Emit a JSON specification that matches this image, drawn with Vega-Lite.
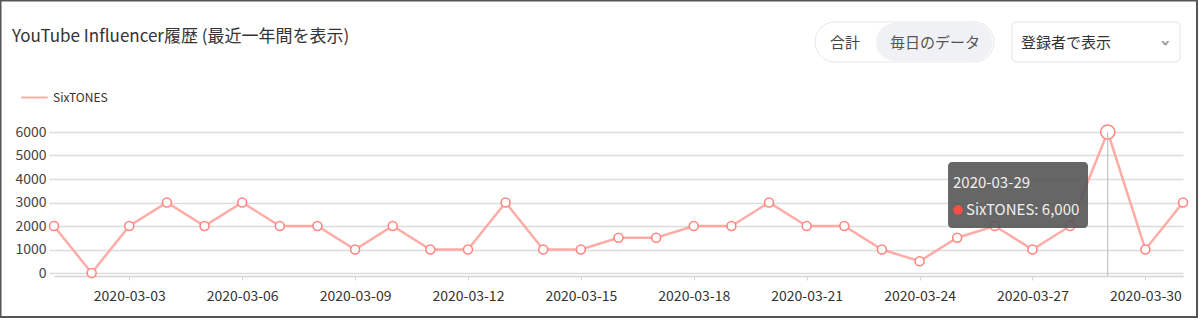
{
  "$schema": "https://vega.github.io/schema/vega-lite/v6.json",
  "autosize": {"type": "none"},
  "width": 1129,
  "height": 141,
  "padding": {"left": 54, "top": 132, "right": 17, "bottom": 47},
  "background": "white",
  "config": {
    "font": "Noto Sans CJK JP",
    "view": {"stroke": null},
    "axisY": {"tickCount": 7, "labelOverlap": false}
  },
  "title": {
    "text": "YouTube Influencer履歴 (最近一年間を表示)",
    "anchor": "start",
    "frame": "group",
    "orient": "top",
    "dx": -42,
    "offset": -47,
    "fontSize": 17,
    "fontWeight": "normal",
    "color": "#333333",
    "font": "Noto Sans CJK JP"
  },
  "data": {
    "values": [
      {"date": "2020-03-01", "name": "SixTONES", "value": 2000},
      {"date": "2020-03-02", "name": "SixTONES", "value": 0},
      {"date": "2020-03-03", "name": "SixTONES", "value": 2000},
      {"date": "2020-03-04", "name": "SixTONES", "value": 3000},
      {"date": "2020-03-05", "name": "SixTONES", "value": 2000},
      {"date": "2020-03-06", "name": "SixTONES", "value": 3000},
      {"date": "2020-03-07", "name": "SixTONES", "value": 2000},
      {"date": "2020-03-08", "name": "SixTONES", "value": 2000},
      {"date": "2020-03-09", "name": "SixTONES", "value": 1000},
      {"date": "2020-03-10", "name": "SixTONES", "value": 2000},
      {"date": "2020-03-11", "name": "SixTONES", "value": 1000},
      {"date": "2020-03-12", "name": "SixTONES", "value": 1000},
      {"date": "2020-03-13", "name": "SixTONES", "value": 3000},
      {"date": "2020-03-14", "name": "SixTONES", "value": 1000},
      {"date": "2020-03-15", "name": "SixTONES", "value": 1000},
      {"date": "2020-03-16", "name": "SixTONES", "value": 1500},
      {"date": "2020-03-17", "name": "SixTONES", "value": 1500},
      {"date": "2020-03-18", "name": "SixTONES", "value": 2000},
      {"date": "2020-03-19", "name": "SixTONES", "value": 2000},
      {"date": "2020-03-20", "name": "SixTONES", "value": 3000},
      {"date": "2020-03-21", "name": "SixTONES", "value": 2000},
      {"date": "2020-03-22", "name": "SixTONES", "value": 2000},
      {"date": "2020-03-23", "name": "SixTONES", "value": 1000},
      {"date": "2020-03-24", "name": "SixTONES", "value": 500},
      {"date": "2020-03-25", "name": "SixTONES", "value": 1500},
      {"date": "2020-03-26", "name": "SixTONES", "value": 2000},
      {"date": "2020-03-27", "name": "SixTONES", "value": 1000},
      {"date": "2020-03-28", "name": "SixTONES", "value": 2000},
      {"date": "2020-03-29", "name": "SixTONES", "value": 6000},
      {"date": "2020-03-30", "name": "SixTONES", "value": 1000},
      {"date": "2020-03-31", "name": "SixTONES", "value": 3000}
    ]
  },
  "layer": [
    {
      "mark": {"type": "line", "strokeWidth": 2.5, "opacity": 0.85},
      "encoding": {
        "x": {
          "field": "date",
          "type": "temporal",
          "scale": {"type": "utc", "domain": [{"year": 2020, "month": 3, "date": 1, "utc": true}, {"year": 2020, "month": 3, "date": 31, "utc": true}], "nice": false},
          "axis": {
            "title": null,
            "values": [
              {"year": 2020, "month": 3, "date": 3, "utc": true},
              {"year": 2020, "month": 3, "date": 6, "utc": true},
              {"year": 2020, "month": 3, "date": 9, "utc": true},
              {"year": 2020, "month": 3, "date": 12, "utc": true},
              {"year": 2020, "month": 3, "date": 15, "utc": true},
              {"year": 2020, "month": 3, "date": 18, "utc": true},
              {"year": 2020, "month": 3, "date": 21, "utc": true},
              {"year": 2020, "month": 3, "date": 24, "utc": true},
              {"year": 2020, "month": 3, "date": 27, "utc": true},
              {"year": 2020, "month": 3, "date": 30, "utc": true}
            ],
            "format": "%Y-%m-%d",
            "grid": false,
            "offset": 3,
            "domainColor": "#d4d4d4",
            "domainWidth": 1.5,
            "tickColor": "#d4d4d4",
            "tickSize": 4,
            "labelFontSize": 14,
            "labelColor": "#333333",
            "labelPadding": 9,
            "labelOverlap": false,
            "labelFont": "Noto Sans CJK JP"
          }
        },
        "y": {
          "field": "value",
          "type": "quantitative",
          "scale": {"domain": [0, 6000], "nice": false, "zero": true},
          "axis": {
            "title": null,
            "values": [0, 1000, 2000, 3000, 4000, 5000, 6000],
            "tickCount": 7,
            "format": "d",
            "domain": false,
            "grid": true,
            "gridColor": "#dcdcdc",
            "gridWidth": 1.5,
            "tickColor": "#dcdcdc",
            "tickSize": 5,
            "tickWidth": 1.5,
            "labelFontSize": 14,
            "labelColor": "#444444",
            "labelPadding": 3,
            "labelOverlap": false,
            "labelFont": "Noto Sans CJK JP"
          }
        },
        "color": {
          "field": "name",
          "type": "nominal",
          "scale": {"range": ["#ff9d98"]},
          "legend": {
            "title": null,
            "orient": "none",
            "legendX": -34,
            "legendY": -49,
            "symbolType": "stroke",
            "symbolSize": 700,
            "symbolStrokeWidth": 2,
            "labelFontSize": 12,
            "labelColor": "#333333",
            "labelFont": "Noto Sans CJK JP"
          }
        }
      }
    },
    {
      "mark": {"type": "point", "filled": true, "fill": "white", "stroke": "#ff8780", "strokeWidth": 1.6, "size": 80, "opacity": 1},
      "encoding": {
        "x": {"field": "date", "type": "temporal"},
        "y": {"field": "value", "type": "quantitative"}
      }
    },
    {
      "transform": [{"filter": "datum.value == 6000"}],
      "mark": {"type": "point", "filled": true, "fill": "white", "stroke": "#ff8780", "strokeWidth": 1.6, "size": 200, "opacity": 1},
      "encoding": {
        "x": {"field": "date", "type": "temporal"},
        "y": {"field": "value", "type": "quantitative"}
      }
    },
    {
      "data": {"values": [{}]},
      "mark": {"type": "rule", "color": "#b8b8b8", "strokeWidth": 1},
      "encoding": {
        "x": {"datum": {"year": 2020, "month": 3, "date": 29, "utc": true}, "type": "temporal"},
        "y": {"datum": 6000, "type": "quantitative"},
        "y2": {"datum": -120}
      }
    },
    {
      "data": {"values": [{}]},
      "mark": {"type": "rect", "fill": "transparent", "stroke": "#555555", "strokeWidth": 2},
      "encoding": {
        "x": {"datum": {"year": 2020, "month": 2, "date": 28, "hours": 13, "minutes": 53, "utc": true}, "type": "temporal"},
        "x2": {"datum": {"year": 2020, "month": 3, "date": 31, "hours": 8, "minutes": 56, "utc": true}},
        "y": {"datum": 11596, "type": "quantitative"},
        "y2": {"datum": -1872}
      }
    },
    {
      "data": {"values": [{}]},
      "mark": {"type": "rect", "fill": "white", "stroke": "#e6e6e6", "strokeWidth": 1, "cornerRadius": 20},
      "encoding": {
        "x": {"datum": {"year": 2020, "month": 3, "date": 21, "hours": 5, "minutes": 20, "utc": true}, "type": "temporal"},
        "x2": {"datum": {"year": 2020, "month": 3, "date": 25, "hours": 23, "minutes": 28, "utc": true}},
        "y": {"datum": 10681, "type": "quantitative"},
        "y2": {"datum": 8979}
      }
    },
    {
      "data": {"values": [{}]},
      "mark": {"type": "rect", "fill": "#f0f1f4", "cornerRadius": 19},
      "encoding": {
        "x": {"datum": {"year": 2020, "month": 3, "date": 22, "hours": 20, "minutes": 14, "utc": true}, "type": "temporal"},
        "x2": {"datum": {"year": 2020, "month": 3, "date": 25, "hours": 22, "minutes": 30, "utc": true}},
        "y": {"datum": 10638, "type": "quantitative"},
        "y2": {"datum": 9021}
      }
    },
    {
      "data": {"values": [{}]},
      "mark": {"type": "rect", "fill": "white", "stroke": "#e2e2e2", "strokeWidth": 1, "cornerRadius": 4},
      "encoding": {
        "x": {"datum": {"year": 2020, "month": 3, "date": 26, "hours": 10, "minutes": 57, "utc": true}, "type": "temporal"},
        "x2": {"datum": {"year": 2020, "month": 3, "date": 30, "hours": 22, "minutes": 5, "utc": true}},
        "y": {"datum": 10681, "type": "quantitative"},
        "y2": {"datum": 8979}
      }
    },
    {
      "data": {"values": [{}]},
      "mark": {"type": "text", "text": "合計", "align": "center", "baseline": "middle", "fontSize": 15, "fontWeight": "normal", "font": "Noto Sans CJK JP", "color": "#444444"},
      "encoding": {
        "x": {"datum": {"year": 2020, "month": 3, "date": 22, "hours": 0, "minutes": 27, "utc": true}, "type": "temporal"},
        "y": {"datum": 9787, "type": "quantitative"}
      }
    },
    {
      "data": {"values": [{}]},
      "mark": {"type": "text", "text": "毎日のデータ", "align": "center", "baseline": "middle", "fontSize": 15, "fontWeight": "normal", "font": "Noto Sans CJK JP", "color": "#555555"},
      "encoding": {
        "x": {"datum": {"year": 2020, "month": 3, "date": 24, "hours": 9, "minutes": 50, "utc": true}, "type": "temporal"},
        "y": {"datum": 9787, "type": "quantitative"}
      }
    },
    {
      "data": {"values": [{}]},
      "mark": {"type": "text", "text": "登録者で表示", "align": "left", "baseline": "middle", "fontSize": 15, "fontWeight": "normal", "font": "Noto Sans CJK JP", "color": "#333333"},
      "encoding": {
        "x": {"datum": {"year": 2020, "month": 3, "date": 26, "hours": 16, "minutes": 42, "utc": true}, "type": "temporal"},
        "y": {"datum": 9787, "type": "quantitative"}
      }
    },
    {
      "data": {"values": [{}]},
      "mark": {"type": "text", "text": "›", "align": "center", "baseline": "middle", "fontSize": 18, "fontWeight": "bold", "angle": 90, "color": "#999999", "font": "DejaVu Sans"},
      "encoding": {
        "x": {"datum": {"year": 2020, "month": 3, "date": 30, "hours": 12, "minutes": 32, "utc": true}, "type": "temporal"},
        "y": {"datum": 9787, "type": "quantitative"}
      }
    },
    {
      "data": {"values": [{}]},
      "mark": {"type": "rect", "fill": "#555555", "opacity": 0.9, "cornerRadius": 4},
      "encoding": {
        "x": {"datum": {"year": 2020, "month": 3, "date": 24, "hours": 18, "minutes": 9, "utc": true}, "type": "temporal"},
        "x2": {"datum": {"year": 2020, "month": 3, "date": 28, "hours": 11, "minutes": 25, "utc": true}},
        "y": {"datum": 4723, "type": "quantitative"},
        "y2": {"datum": 1915}
      }
    },
    {
      "data": {"values": [{}]},
      "mark": {"type": "text", "text": "2020-03-29", "align": "left", "baseline": "middle", "fontSize": 15, "fontWeight": "normal", "font": "Noto Sans CJK JP", "color": "#f0f0f0"},
      "encoding": {
        "x": {"datum": {"year": 2020, "month": 3, "date": 24, "hours": 21, "minutes": 20, "utc": true}, "type": "temporal"},
        "y": {"datum": 3830, "type": "quantitative"}
      }
    },
    {
      "data": {"values": [{}]},
      "mark": {"type": "circle", "color": "#ff4f45", "size": 90, "opacity": 1},
      "encoding": {
        "x": {"datum": {"year": 2020, "month": 3, "date": 25, "hours": 0, "minutes": 32, "utc": true}, "type": "temporal"},
        "y": {"datum": 2681, "type": "quantitative"}
      }
    },
    {
      "data": {"values": [{}]},
      "mark": {"type": "text", "text": "SixTONES: 6,000", "align": "left", "baseline": "middle", "fontSize": 15, "fontWeight": "normal", "font": "Noto Sans CJK JP", "color": "#f0f0f0"},
      "encoding": {
        "x": {"datum": {"year": 2020, "month": 3, "date": 25, "hours": 5, "minutes": 37, "utc": true}, "type": "temporal"},
        "y": {"datum": 2681, "type": "quantitative"}
      }
    }
  ]
}
